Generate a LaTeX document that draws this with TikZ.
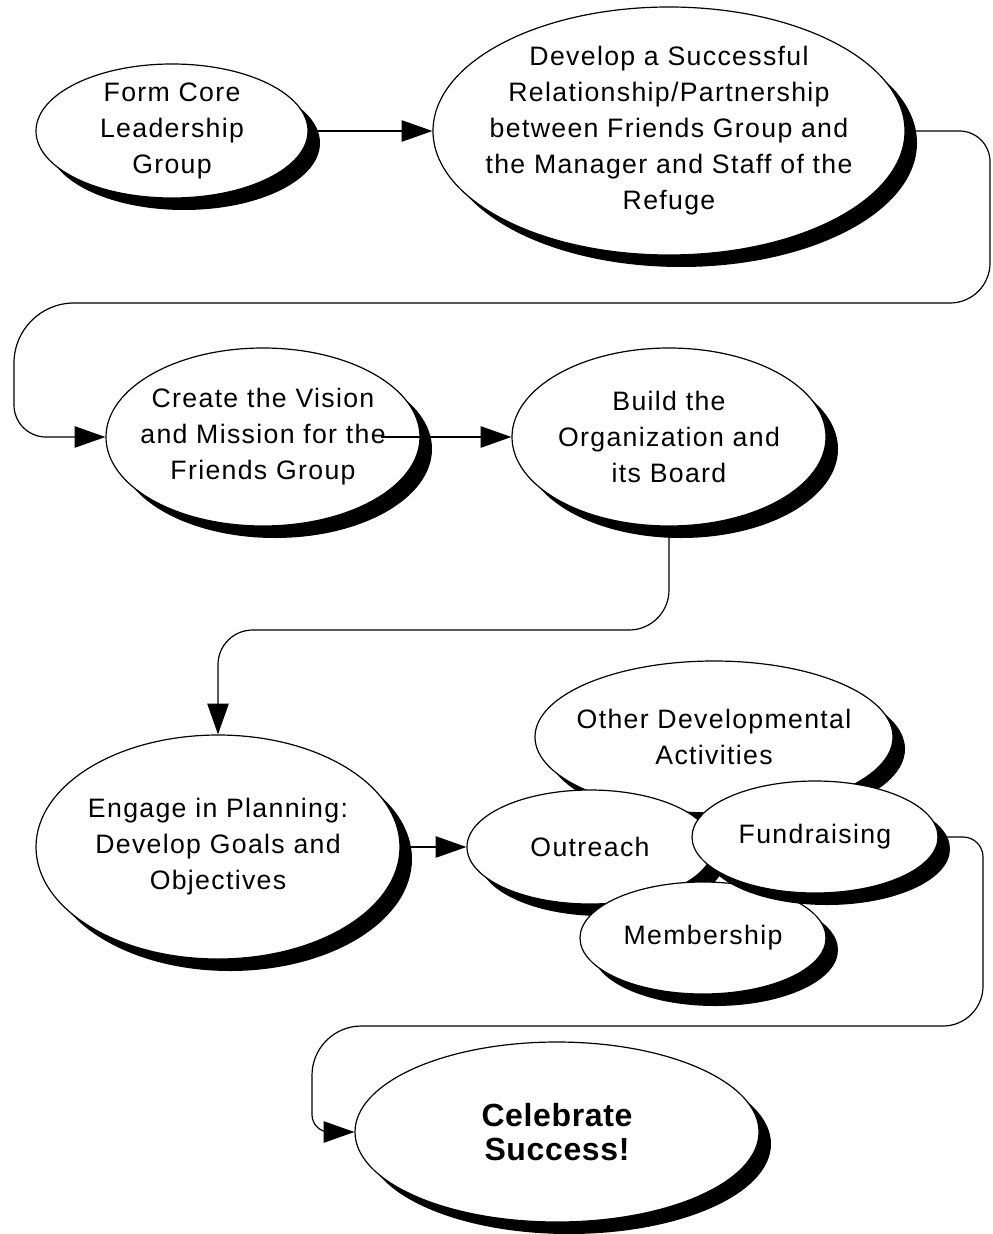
\documentclass[tikz,border=0pt]{standalone}
\usepackage{fontspec}
\setmainfont{Liberation Sans}[LetterSpace=5]
\usetikzlibrary{shapes.geometric,shadows,arrows.meta,calc}

\tikzset{every picture/.style={line width=0.9pt}}
\tikzset{
  oval/.style 2 args={ellipse, draw, fill=white, inner sep=0pt,
    minimum width=#1*1.5pt, minimum height=#2*1.5pt,
    drop shadow={shadow xshift=9pt, shadow yshift=-9pt, opacity=1, fill=black}},
  txt/.style={align=center, inner sep=0pt, font=\fontsize{20}{27}\selectfont},
  bigtxt/.style={align=center, inner sep=0pt, font=\fontsize{24}{25.5}\selectfont\bfseries\addfontfeatures{LetterSpace=2}},
  flow/.style={-{Triangle[length=23pt,width=16pt]}},
}

\begin{document}
\begin{tikzpicture}[x=0.75pt,y=0.75pt,yscale=-1,xscale=1]
\useasboundingbox (0,0) rectangle (992,1234);

% Steps
\node[oval={136}{67}, label={[txt]center:{Form Core\\Leadership\\Group}}] (form) at (172,131) {};
\node[oval={236}{124}, label={[txt]center:{Develop a Successful\\Relationship/Partnership\\between Friends Group and\\the Manager and Staff of the\\Refuge}}] (dev) at (669,131) {};
\node[oval={157}{89}, label={[txt]center:{Create the Vision\\and Mission for the\\Friends Group}}] (vision) at (263,437) {};
\node[oval={157}{89}, label={[txt]center:{Build the\\Organization and\\its Board}}] (build) at (669,437) {};
\node[oval={182}{112}, label={[txt]center:{Engage in Planning:\\Develop Goals and\\Objectives}}] (engage) at (218,847) {};

% Activities cluster
\node[oval={179}{76}, label={[txt]center:{Other Developmental\\Activities}}] (other) at (714,737) {};
\node[oval={123}{57}, label={[txt]center:{Outreach}}] (outreach) at (590,847) {};
\node[oval={123}{56}, label={[txt]center:{Membership}}] (member) at (703,938) {};
\node[oval={123}{56}, label={[txt]center:{Fundraising}}] (fund) at (815,837) {};

\node[oval={202}{90}, label={[bigtxt]center:{Celebrate\\Success!}}] (celeb) at (557,1132) {};

% Turning points
\coordinate (r1) at (990,303);
\coordinate (l1) at (14,303);
\coordinate (lane2) at (0,630);
\coordinate (r3) at (983,1026);
\coordinate (l3) at (312,1026);

% Connectors
\draw[flow] (form.east) -- (dev.west);
\draw[flow] (dev.east) [rounded corners=23pt] -- (dev.east -| r1) [rounded corners=30pt] -- (r1) [rounded corners=45pt] -- (l1) [rounded corners=24pt] -- (l1 |- vision.west) -- (vision.west);
\draw[flow] ($(vision.east)+(-40,0)$) -- (build.west);
\draw[flow] (build.south) [rounded corners=30pt] -- (build.south |- lane2) [rounded corners=26pt] -- (engage.north |- lane2) -- (engage.north);
\draw[flow] (engage.east) -- (outreach.west);
\draw[flow] (fund.east) [rounded corners=15pt] -- (fund.east -| r3) [rounded corners=30pt] -- (r3) [rounded corners=37pt] -- (l3) [rounded corners=13pt] -- (l3 |- celeb.west) -- (celeb.west);

\end{tikzpicture}
\end{document}
